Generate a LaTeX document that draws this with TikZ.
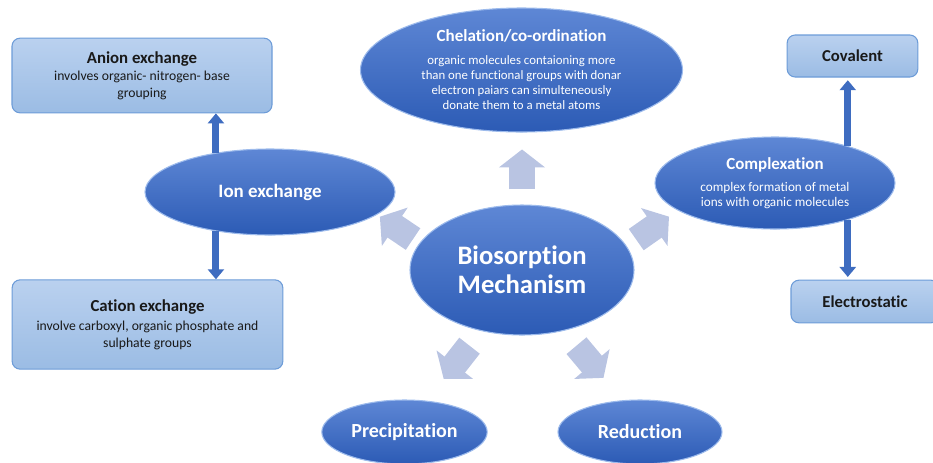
\documentclass[tikz,border=0pt]{standalone}
\usepackage{fontspec}
\setmainfont{Carlito}[Ligatures=NoCommon]
\usetikzlibrary{shapes.geometric,arrows.meta}

\definecolor{ellTop}{HTML}{5E87D5}
\definecolor{ellBot}{HTML}{2C5BB5}
\definecolor{ellRim}{HTML}{9DBBEC}
\definecolor{boxTop}{HTML}{BAD1EF}
\definecolor{boxBot}{HTML}{9BBCE4}
\definecolor{boxRim}{HTML}{6D9CD8}
\definecolor{linkBlue}{HTML}{3E6CC0}
\definecolor{paleBlue}{HTML}{B9C4E2}

\tikzset{
  mech/.style={ellipse,inner sep=0pt,top color=ellTop,bottom color=ellBot,draw=ellRim,line width=0.8pt,text=white,font=\bfseries,align=center},
  info/.style={rectangle,rounded corners=6pt,inner sep=0pt,top color=boxTop,bottom color=boxBot,draw=boxRim,line width=0.8pt,text=black!90,align=center},
  linkarrow/.style={draw=linkBlue,line width=5.25pt,-{Triangle[width=12pt,length=7.5pt]}},
  blockarrow/.style={draw=paleBlue,line width=19.5pt,-{Triangle[width=34pt,length=13.5pt]}}
}

\begin{document}
\begin{tikzpicture}[x=0.75pt,y=0.75pt]
      \useasboundingbox (0,0) rectangle (933,-462);
      \clip (0,0) rectangle (933,-462);

      \draw (142,-75.5) node [info,minimum width=195pt,minimum height=56pt,font=\fontsize{10.25}{12.75}\selectfont] (an) {{\fontsize{12.6}{15}\selectfont\bfseries Anion exchange}\\involves organic- nitrogen- base\\grouping};
      \draw (147.5,-324.5) node [info,minimum width=203pt,minimum height=67pt,font=\fontsize{10.25}{12.75}\selectfont] (cat) {{\fontsize{12.6}{15}\selectfont\bfseries Cation exchange}\\[1.5pt]involve carboxyl, organic phosphate and\\sulphate groups};
      \draw (270,-192) node [mech,minimum width=187.5pt,minimum height=64.5pt,font=\fontsize{14.2}{17}\selectfont\bfseries] (ion) {Ion exchange};
      \draw (521.5,-70) node [mech,minimum width=241.5pt,minimum height=93pt,font=\fontsize{9.6}{11.25}\selectfont] (chel) {{\fontsize{12.75}{15}\selectfont\bfseries Chelation/co-ordination}\\[6pt]organic molecules contaioning more\\than one functional groups with donar\\electron paiars can simulteneously\\donate them to a metal atoms};
      \draw (522,-270) node [mech,minimum width=168pt,minimum height=97.5pt,font=\fontsize{20}{21.75}\selectfont\bfseries] (bio) {Biosorption\\Mechanism};
      \draw (775,-183) node [mech,minimum width=180pt,minimum height=69pt,font=\fontsize{9.9}{11.25}\selectfont] (cx) {{\fontsize{12.7}{15}\selectfont\bfseries Complexation}\\[5pt]complex formation of metal\\ions with organic molecules};
      \draw (852.5,-56) node [info,minimum width=98pt,minimum height=31.5pt,font=\fontsize{12.5}{15}\selectfont\bfseries] (cov) {Covalent};
      \draw (865,-301.5) node [info,minimum width=111pt,minimum height=32pt,font=\fontsize{12.5}{15}\selectfont\bfseries] (elec) {Electrostatic};
      \draw (404.5,-432) node [mech,minimum width=124pt,minimum height=48pt,font=\fontsize{15}{18}\selectfont\bfseries] (prec) {Precipitation};
      \draw (640,-432) node [mech,minimum width=123pt,minimum height=48pt,font=\fontsize{15}{18}\selectfont\bfseries] (red) {Reduction};

      \draw[linkarrow] (ion.144) -- (ion.144 |- an.south);
      \draw[linkarrow] (ion.216) -- (ion.216 |- cat.north);
      \draw[linkarrow,shorten >=2pt] (cx.27) -- (cx.27 |- cov.south);
      \draw[linkarrow,shorten >=2pt] (cx.-27) -- (cx.-27 |- elec.north);

      \draw[blockarrow] (bio.164) ++(-8,2) -- ++(146:40);
      \draw[blockarrow] (bio.15) ++(12,3) -- ++(35:40);
      \draw[blockarrow] (bio.90) ++(0,15) -- ++(90:40);
      \draw[blockarrow] (bio.-125) ++(-10,-15) -- ++(-128:42);
      \draw[blockarrow] (bio.-55) ++(12,-15) -- ++(-50:42);
    \end{tikzpicture}
\end{document}
